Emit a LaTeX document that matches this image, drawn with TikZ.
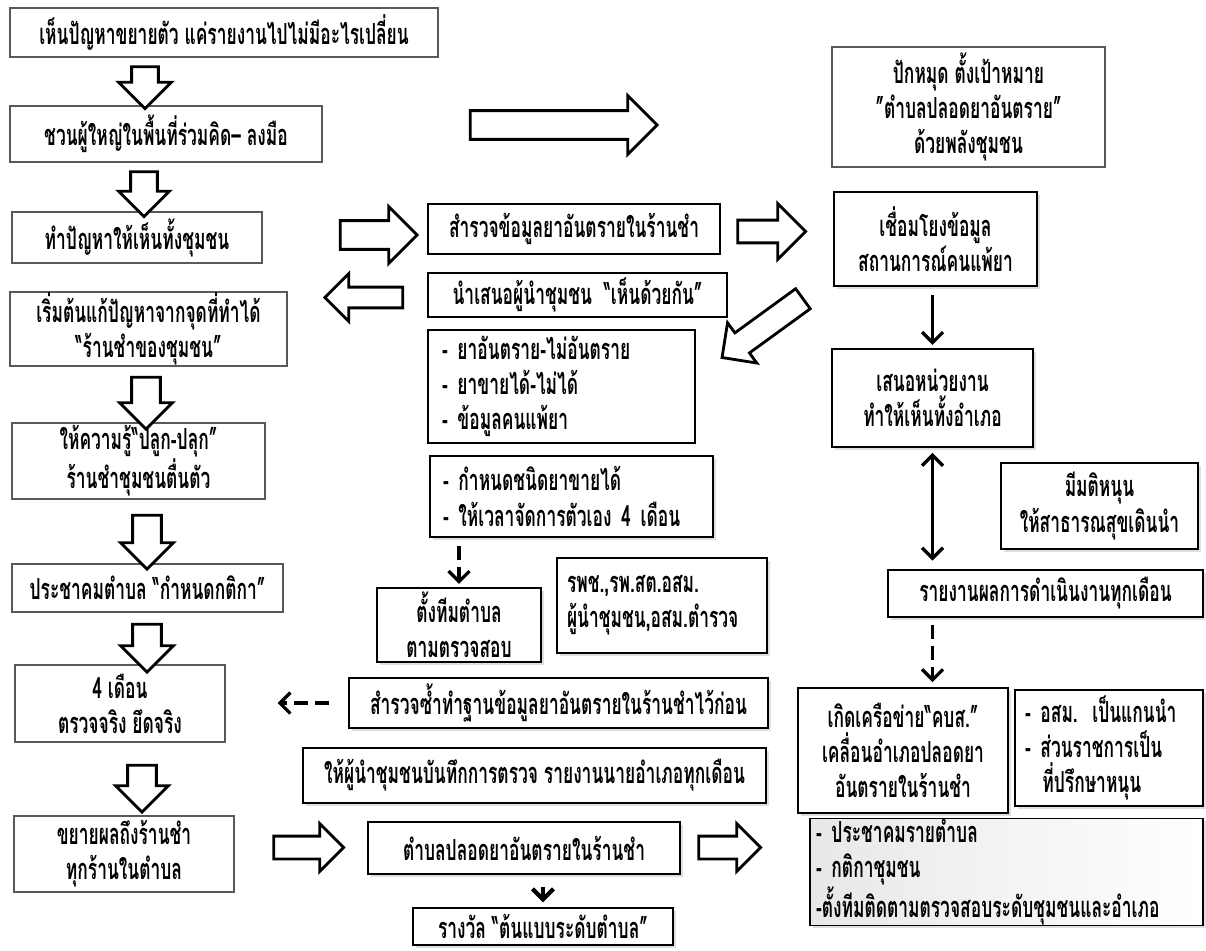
\documentclass[tikz,border=0pt]{standalone}
\usepackage{fontspec}
\usepackage{tikz}
\usetikzlibrary{shapes.arrows, arrows.meta, shadows}
\newfontfamily\thaifont[Script=Thai, FakeStretch=0.60]{Loma}
\newcommand\thtext{\thaifont\bfseries\fontsize{16.5}{20}\selectfont}

\begin{document}
\begin{tikzpicture}[
		x=.02cm, y=-.02cm
		,font=\thtext
		,box/.style={draw=black!65, line width=.6pt, fill=white, align=center, inner sep=0pt}
		,shade box/.style={box, draw=black, drop shadow={opacity=.25, shadow xshift=1.5pt, shadow yshift=-1.5pt}}
		,heavy/.style={box, draw=black, line width=1.5pt}
		,wh/.style 2 args={minimum width=#1*.02cm, minimum height=#2*.02cm}
		,list/.style 2 args={align=left, text width=#1*.02cm, inner xsep=#2*.02cm}
		,bigarrow/.style n args={3}{single arrow, draw=black, line width=1.6pt, fill=white, inner xsep=0pt, inner ysep=#2*.01cm, single arrow head extend=(#3-#2)*.01cm, minimum height=#1*.02cm}
		,link/.style={-{Straight Barb[length=6pt, width=12pt]}, line width=1.9pt}
		,dashlink/.style={link, dash pattern=on 8pt off 4pt}
	]
	\useasboundingbox (0,0) rectangle (1206,950);

	% left column
	\node[box, wh={428}{49}] (see) at (224,32.5) {เห็นปัญหาขยายตัว แค่รายงานไปไม่มีอะไรเปลี่ยน};
	\node[box, wh={312}{56}] (invite) at (166,134) {ชวนผู้ใหญ่ในพื้นที่ร่วมคิด– ลงมือ};
	\node[box, wh={250}{51}] (show) at (137,237.5) {ทำปัญหาให้เห็นทั้งชุมชน};
	\node[box, wh={277}{74}] (start) at (148.5,329) {เริ่มต้นแก้ปัญหาจากจุดที่ทำได้\\“ร้านชำของชุมชน”};
	\node[box, wh={253}{76}] (teach) at (138.5,461) {ให้ความรู้“ปลูก-ปลุก”\\ร้านชำชุมชนตื่นตัว};
	\node[box, wh={271}{48}] (rules) at (147.5,588) {ประชาคมตำบล “กำหนดกติกา”};
	\node[box, wh={210}{77}] (fourmonth) at (120,703.5) {4 เดือน\\ตรวจจริง ยึดจริง};
	\node[box, wh={220}{76}] (expand) at (124,854) {ขยายผลถึงร้านชำ\\ทุกร้านในตำบล};

	\node[bigarrow={42}{24}{50}, rotate=-90] (a1) at (145,81) {};
	\node[bigarrow={45}{24}{48}, rotate=-90] (a2) at (144,187.5) {};
	\node[bigarrow={52}{26}{50}, rotate=-90] (a3) at (146,396) {};
	\node[bigarrow={54}{26}{50}, rotate=-90] (a4) at (147,535) {};
	\node[bigarrow={48}{26}{50}, rotate=-90] (a5) at (147,641) {};
	\node[bigarrow={47}{26}{50}, rotate=-90] (a6) at (142,781.5) {};

	% middle column
	\node[heavy, wh={292}{50}] (survey) at (574,229) {สำรวจข้อมูลยาอันตรายในร้านชำ};
	\node[heavy, wh={299}{44}] (present) at (577.5,295) {นำเสนอผู้นำชุมชน \ “เห็นด้วยกัน”};
	\node[heavy, wh={267}{113}, list={239}{14}] (facts) at (561.5,386.5) {- ยาอันตราย-ไม่อันตราย\\- ยาขายได้-ไม่ได้\\- ข้อมูลคนแพ้ยา};
	\node[shade box, wh={283}{81}, list={257}{13}] (setrules) at (571.5,496.5) {- กำหนดชนิดยาขายได้\\- ให้เวลาจัดการตัวเอง 4 เดือน};
	\node[shade box, wh={164}{74}] (team) at (459,625) {ตั้งทีมตำบล\\ตามตรวจสอบ};
	\node[shade box, wh={210}{95}, list={190}{10}] (partners) at (662,605.5) {รพช.,รพ.สต.อสม.\\ผู้นำชุมชน,อสม.ตำรวจ};
	\node[shade box, wh={419}{50}] (resurvey) at (558.5,703) {สำรวจซ้ำทำฐานข้อมูลยาอันตรายในร้านชำไว้ก่อน};
	\node[shade box, wh={463}{55}] (record) at (534.5,775.5) {ให้ผู้นำชุมชนบันทึกการตรวจ รายงานนายอำเภอทุกเดือน};
	\node[shade box, wh={312}{52}] (safe) at (524,848) {ตำบลปลอดยาอันตรายในร้านชำ};
	\node[shade box, wh={260}{37}] (award) at (543,926.5) {รางวัล “ต้นแบบระดับตำบล”};

	\node[bigarrow={187}{26}{56}] (h1) at (556.5,125) {};
	\node[bigarrow={77}{26}{54}] (h2) at (371.5,235) {};
	\node[bigarrow={68}{20}{53}] (h3) at (766,231.5) {};
	\node[bigarrow={78}{18}{45}, rotate=180] (h4) at (369,297.5) {};
	\node[bigarrow={70}{20}{45}] (h5) at (303,847.5) {};
	\node[bigarrow={62}{20}{45}] (h6) at (724,847.5) {};
	\node[bigarrow={100}{22}{47}, rotate=216] (d1) at (767.5,324.5) {};

	% right column
	\node[box, wh={273}{120}] (goal) at (968.5,107) {ปักหมุด ตั้งเป้าหมาย\\”ตำบลปลอดยาอันตราย”\\ด้วยพลังชุมชน};
	\node[shade box, wh={203}{94}] (linkdata) at (935.5,239) {เชื่อมโยงข้อมูล\\สถานการณ์คนแพ้ยา};
	\node[shade box, wh={201}{98}] (propose) at (932.5,398) {เสนอหน่วยงาน\\ทำให้เห็นทั้งอำเภอ};
	\node[shade box, wh={197}{86}] (resolve) at (1099.5,506) {มีมติหนุน\\ให้สาธารณสุขเดินนำ};
	\node[shade box, wh={315}{47}] (monthly) at (1045.5,593.5) {รายงานผลการดำเนินงานทุกเดือน};
	\node[shade box, wh={210}{125}] (network) at (903,750.5) {เกิดเครือข่าย“คบส.”\\เคลื่อนอำเภอปลอดยา\\อันตรายในร้านชำ};
	\node[shade box, wh={188}{116}, list={168}{10}] (roles) at (1109,748) {- อสม. เป็นแกนนำ\\- ส่วนราชการเป็น\\\hspace*{.6em}ที่ปรึกษาหนุน};
	\node[shade box, wh={393}{90}, list={381}{6}, left color=black!9, right color=white] (outcome) at (1006.5,872) {- ประชาคมรายตำบล\\- กติกาชุมชน\\-ตั้งทีมติดตามตรวจสอบระดับชุมชนและอำเภอ};

	\draw[link, shorten <=5pt, shorten >=2pt] (linkdata.south -| propose.north) -- (propose.north);
	\draw[link, {Straight Barb[length=6pt, width=12pt]}-{Straight Barb[length=6pt, width=12pt]}, shorten <=3pt, shorten >=5pt] (propose.south) -- (propose.south |- monthly.north);
	\draw[dashlink, shorten <=4pt, shorten >=3pt] (propose.south |- monthly.south) -- (propose.south |- network.north);
	\draw[dashlink, shorten <=5pt, shorten >=2pt] (setrules.south -| team.north) -- (team.north);
	\draw[dashlink, shorten <=.38cm, shorten >=1.04cm] (resurvey.west) -- (resurvey.west -| fourmonth.east);
	\draw[link, line width=2.5pt, shorten <=.25cm, shorten >=.1cm] (safe.south -| award.north) -- (award.north);
\end{tikzpicture}
\end{document}
